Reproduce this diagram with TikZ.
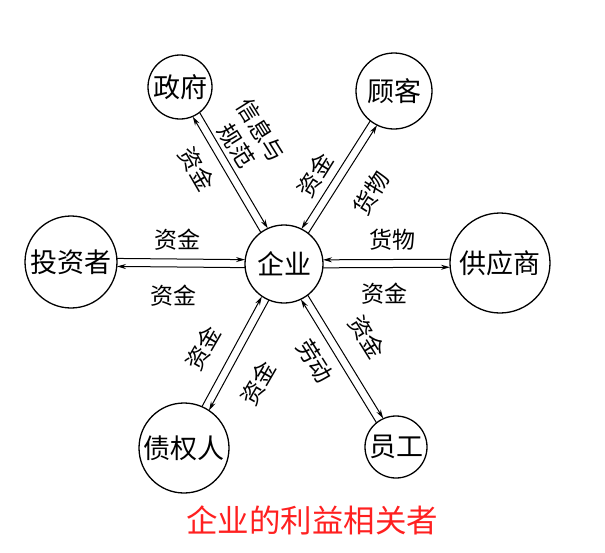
\documentclass[tikz,border=0pt]{standalone}
\usepackage{fontspec}
\setmainfont{Noto Sans CJK SC}
\usetikzlibrary{calc,arrows.meta}
\definecolor{titlered}{RGB}{255,32,32}
\begin{document}
\begin{tikzpicture}[x=1pt,y=-1pt,
  party/.style={circle,draw,line width=1.3pt,inner sep=0pt,font=\fontsize{27}{30}\selectfont},
  flow/.style={line width=1pt,-{Stealth[length=9pt,width=5pt]}},
  lab/.style={font=\fontsize{23}{29}\selectfont,inner sep=0pt,align=center}]
\useasboundingbox (0,0) rectangle (605,552);
% nodes
\node[party,minimum size=78pt]  (E) at (284,264) {企业};
\node[party,minimum size=64pt]  (G) at (180,87)  {政府};
\node[party,minimum size=76pt]  (C) at (394,91)  {顾客};
\node[party,minimum size=92pt]  (I) at (71,262)  {投资者};
\node[party,minimum size=100pt] (S) at (500,263) {供应商};
\node[party,minimum size=90pt]  (R) at (184,448) {债权人};
\node[party,minimum size=62pt]  (W) at (396,447) {员工};
% government
\draw[flow,shorten <=32pt,shorten >=39pt] ($(G)!4pt!90:(E)$) -- ($(E)!4pt!-90:(G)$);
\draw[flow,shorten <=39pt,shorten >=32pt] ($(E)!4pt!90:(G)$) -- ($(G)!4pt!-90:(E)$);
% customer
\draw[flow,shorten <=38pt,shorten >=39pt] ($(C)!4pt!-90:(E)$) -- ($(E)!4pt!90:(C)$);
\draw[flow,shorten <=39pt,shorten >=38pt] ($(E)!4pt!-90:(C)$) -- ($(C)!4pt!90:(E)$);
% investor
\draw[flow,shorten <=46pt,shorten >=39pt] ($(I)!4pt!90:(E)$) -- ($(E)!4pt!-90:(I)$);
\draw[flow,shorten <=39pt,shorten >=46pt] ($(E)!4pt!90:(I)$) -- ($(I)!4pt!-90:(E)$);
% supplier
\draw[flow,shorten <=50pt,shorten >=39pt] ($(S)!4pt!-90:(E)$) -- ($(E)!4pt!90:(S)$);
\draw[flow,shorten <=39pt,shorten >=50pt] ($(E)!4pt!-90:(S)$) -- ($(S)!4pt!90:(E)$);
% creditor
\draw[flow,shorten <=45pt,shorten >=39pt] ($(R)!4pt!90:(E)$) -- ($(E)!4pt!-90:(R)$);
\draw[flow,shorten <=39pt,shorten >=45pt] ($(E)!4pt!90:(R)$) -- ($(R)!4pt!-90:(E)$);
% employee
\draw[flow,shorten <=31pt,shorten >=39pt] ($(W)!4pt!90:(E)$) -- ($(E)!4pt!-90:(W)$);
\draw[flow,shorten <=39pt,shorten >=31pt] ($(E)!4pt!90:(W)$) -- ($(W)!4pt!-90:(E)$);
% labels
\node[lab,rotate=-60] (l1) at (197,169) {资金};
\node[lab,rotate=-58] (l2) at (249,138) {信息与\\规范};
\node[lab,rotate=58]  (l3) at (315,175) {资金};
\node[lab,rotate=58]  (l4) at (371,193) {货物};
\node[lab] (l5) at (177,240) {资金};
\node[lab] (l6) at (173,296) {资金};
\node[lab] (l7) at (392,240) {货物};
\node[lab] (l8) at (384,294) {资金};
\node[lab,rotate=60]  (l9) at (203,348) {资金};
\node[lab,rotate=60]  (l10) at (258,383) {资金};
\node[lab,rotate=-58] (l11) at (315,361) {劳动};
\node[lab,rotate=-58] (l12) at (367,337) {资金};
% title
\node[font=\fontsize{31.5}{36}\selectfont,text=titlered,inner sep=0pt] (T) at (312,520) {企业的利益相关者};
\end{tikzpicture}
\end{document}
